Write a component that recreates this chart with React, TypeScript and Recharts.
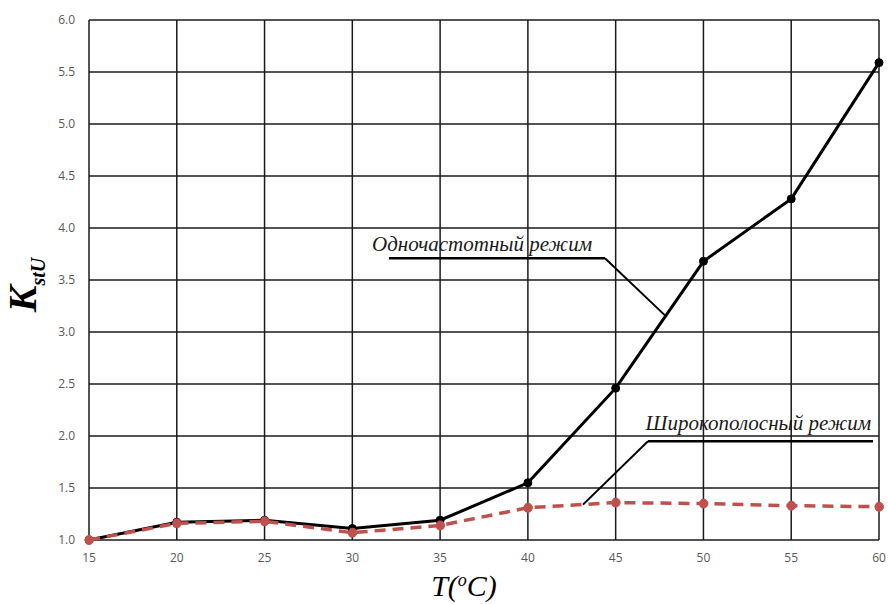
import React from "react";
import {
  LineChart,
  Line,
  XAxis,
  YAxis,
  CartesianGrid,
  ReferenceLine,
  ReferenceDot,
} from "recharts";

// temperature, °C
const temps = [15, 20, 25, 30, 35, 40, 45, 50, 55, 60];
// K_stU, single-frequency mode
const singleFreq = [1.0, 1.17, 1.19, 1.11, 1.19, 1.55, 2.46, 3.68, 4.28, 5.59];
// K_stU, wideband mode
const wideband = [1.0, 1.16, 1.18, 1.07, 1.14, 1.31, 1.36, 1.35, 1.33, 1.32];

const xTicks = [15, 20, 25, 30, 35, 40, 45, 50, 55, 60];
const yTicks = [1.0, 1.5, 2.0, 2.5, 3.0, 3.5, 4.0, 4.5, 5.0, 5.5, 6.0];

const singleLabel = "Одночастотный режим";
const wideLabel = "Широкополосный режим";

const data = temps.map((t, i) => ({
  t,
  single: singleFreq[i],
  wide: wideband[i],
}));

const tickStyle = { fill: "#595959", fontSize: 12, fontFamily: "Open Sans" };

const YLabel = (props: any) => {
  const vb = props.viewBox;
  const x = vb.x + 36;
  const y = vb.y + vb.height / 2 + 5;
  return (
    <text
      x={x}
      y={y}
      transform={`rotate(-90, ${x}, ${y})`}
      textAnchor="middle"
      fontFamily="Liberation Serif"
      fontStyle="italic"
      fontWeight="bold"
      fill="#000"
    >
      <tspan fontSize={40}>K</tspan>
      <tspan fontSize={20} dy={9}>
        stU
      </tspan>
    </text>
  );
};

const XLabel = (props: any) => {
  const vb = props.viewBox;
  const x = vb.x + vb.width / 2 - 20;
  const y = vb.y + 56;
  return (
    <text
      x={x}
      y={y}
      textAnchor="middle"
      fontFamily="Liberation Serif"
      fontStyle="italic"
      fontSize={30}
      fill="#000"
    >
      <tspan>T(</tspan>
      <tspan fontSize={18} dy={-10}>
        o
      </tspan>
      <tspan dy={10}>C)</tspan>
    </text>
  );
};

// annotation text, centred on its data point
const note = (text: string) => (props: any) => (
  <text
    x={props.cx}
    y={props.cy}
    textAnchor="middle"
    fontFamily="Liberation Serif"
    fontStyle="italic"
    fontSize={21}
    fill="#1a1a1a"
  >
    {text}
  </text>
);

export default function App() {
  return (
    <div style={{ position: "absolute", left: 0, top: 0, background: "#fff" }}>
      <LineChart
        width={888}
        height={604}
        data={data}
        margin={{ top: 20, right: 9, left: 0, bottom: 0 }}
      >
        <CartesianGrid stroke="#1a1a1a" strokeWidth={1.5} />
        <XAxis
          dataKey="t"
          type="number"
          domain={[15, 60]}
          ticks={xTicks}
          height={64}
          axisLine={false}
          tickLine={false}
          tickMargin={7}
          tick={tickStyle}
          label={<XLabel />}
        />
        <YAxis
          type="number"
          domain={[1, 6]}
          ticks={yTicks}
          width={89}
          axisLine={false}
          tickLine={false}
          tickMargin={8}
          tick={tickStyle}
          tickFormatter={(v: number) => v.toFixed(1)}
          label={<YLabel />}
        />
        <Line
          dataKey="single"
          stroke="#000"
          strokeWidth={3}
          dot={{ r: 4, fill: "#000", stroke: "#000", strokeWidth: 1 }}
          isAnimationActive={false}
        />
        <Line
          dataKey="wide"
          stroke="#c0504d"
          strokeWidth={3.5}
          strokeDasharray="11 7"
          dot={{ r: 4.5, fill: "#c0504d", stroke: "#c0504d", strokeWidth: 1 }}
          isAnimationActive={false}
        />
        <ReferenceLine
          segment={[
            { x: 32.09, y: 3.71 },
            { x: 44.39, y: 3.71 },
          ]}
          stroke="#000"
          strokeWidth={2.5}
        />
        <ReferenceLine
          segment={[
            { x: 44.39, y: 3.71 },
            { x: 47.81, y: 3.16 },
          ]}
          stroke="#000"
          strokeWidth={2}
        />
        <ReferenceLine
          segment={[
            { x: 46.84, y: 1.95 },
            { x: 59.66, y: 1.95 },
          ]}
          stroke="#000"
          strokeWidth={2.5}
        />
        <ReferenceLine
          segment={[
            { x: 46.84, y: 1.95 },
            { x: 43.14, y: 1.34 },
          ]}
          stroke="#000"
          strokeWidth={2}
        />
        <ReferenceDot x={37.39} y={3.78} r={0} shape={note(singleLabel)} />
        <ReferenceDot x={53.13} y={2.06} r={0} shape={note(wideLabel)} />
      </LineChart>
    </div>
  );
}
